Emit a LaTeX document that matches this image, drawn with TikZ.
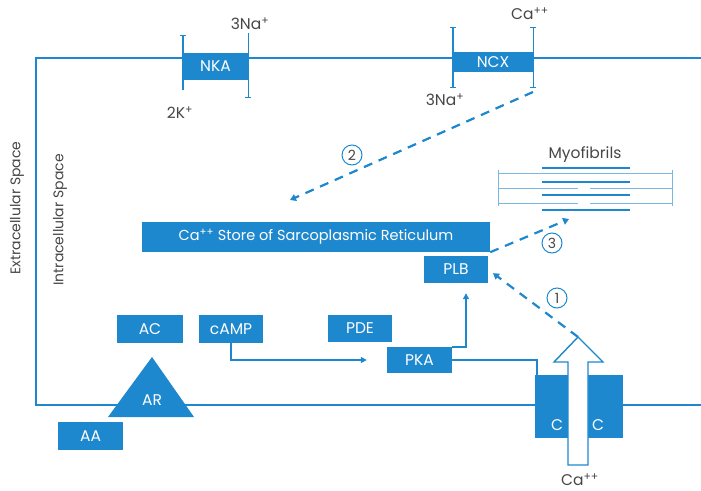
\documentclass[tikz,border=0pt]{standalone}
\usepackage{fontspec}
\setmainfont{Poppins}
\usetikzlibrary{arrows.meta,calc}
\definecolor{cellblue}{RGB}{30,136,206}
\definecolor{txtgray}{RGB}{70,70,70}
\tikzset{
  box/.style={fill=cellblue, text=white, inner sep=0pt, font=\fontsize{15.5}{17}\selectfont},
  lbl/.style={text=txtgray, inner sep=0pt, font=\fontsize{15.5}{17}\selectfont},
  sidelbl/.style={lbl, rotate=90, font=\fontsize{14}{16}\selectfont},
  membrane/.style={draw=cellblue, line width=1.6pt},
  pumpline/.style={draw=cellblue, line width=1.4pt},
  flow/.style={draw=cellblue, line width=1.4pt, -{Triangle[length=6pt,width=6pt]}},
  dashflow/.style={draw=cellblue, line width=2.2pt, dash pattern=on 9pt off 7pt, -{Triangle[length=6pt,width=7pt]}},
  stepnum/.style={circle, draw=cellblue, fill=white, line width=1pt, minimum size=20pt, inner sep=0pt, text=txtgray, font=\fontsize{14}{16}\selectfont},
}
\begin{document}
\begin{tikzpicture}[x=1pt,y=-1pt]
    \useasboundingbox (0,0) rectangle (701,490);

    % Membrane
    \draw[membrane] (701,58) -- (36,58) -- (36,405) -- (701,405);
    \node[sidelbl] (extra) at (17,208) {Extracellular Space};
    \node[sidelbl] (intra) at (60,220) {Intracellular Space};

    % Pumps
    \node[box, minimum width=65pt, minimum height=27pt] (nka) at (215.5,66.5) {NKA};
    \draw[pumpline, {Bar[width=6pt]}-] ([yshift=18pt]nka.north west) -- ([yshift=-10pt]nka.south west);
    \draw[pumpline, -{Bar[width=6pt]}] ([yshift=20pt]nka.north east) -- ([yshift=-18pt]nka.south east);
    \node[lbl] (na1) at (250,24) {3Na\textsuperscript{+}};
    \node[lbl] (k1) at (180,113) {2K\textsuperscript{+}};

    \node[box, minimum width=80pt, minimum height=20pt] (ncx) at (493,62) {NCX};
    \draw[pumpline, {Bar[width=6pt]}-{Bar[width=6pt]}] ([yshift=25pt]ncx.north west) -- ([yshift=-16pt]ncx.south west);
    \draw[pumpline, {Bar[width=6pt]}-{Bar[width=6pt]}] ([yshift=25pt]ncx.north east) -- ([yshift=-16pt]ncx.south east);
    \node[lbl] (ca1) at (530,14) {Ca\textsuperscript{++}};
    \node[lbl] (na2) at (445,100) {3Na\textsuperscript{+}};
    \coordinate (ncxout) at (533,92);

    % Sarcoplasmic reticulum
    \node[box, minimum width=348pt, minimum height=30pt, font=\fontsize{14.5}{16}\selectfont] (store) at (316,237) {Ca\textsuperscript{++} Store of Sarcoplasmic Reticulum};
    \node[box, minimum width=64pt, minimum height=27pt] (plb) at (456,269.5) {PLB};
    \coordinate (storetip) at (290,200);

    % Myofibrils
    \node[lbl] (myo) at (585,155) {Myofibrils};
    \draw[cellblue!60, line width=0.8pt] (498,170) -- (498,206) (672,170) -- (672,206) (498,173) -- (672,173);
    \foreach \y in {188,203}
        \draw[cellblue!60, line width=0.8pt] (498,\y) -- (578,\y) (590,\y) -- (672,\y);
    \foreach \y in {168,182,195,210}
        \draw[cellblue, line width=2.6pt] (542,\y) -- (630,\y);
    \coordinate (myotip) at (569,219);

    % Signalling
    \node[box, minimum width=66pt, minimum height=28pt] (ac) at (150,329) {AC};
    \node[box, minimum width=64pt, minimum height=28pt] (camp) at (231,329) {cAMP};
    \node[box, minimum width=64pt, minimum height=27pt] (pde) at (360,328.5) {PDE};
    \node[box, minimum width=65pt, minimum height=26pt] (pka) at (419.5,360) {PKA};
    \node[box, minimum width=65pt, minimum height=28pt] (aa) at (90.5,436) {AA};
    \fill[cellblue] (108,417) -- (152,357) -- (194,417) -- cycle;
    \node[lbl, text=white] (ar) at (152,400) {AR};

    % Calcium channel
    \node[box, minimum width=33pt, minimum height=63pt] (chl) at (551.5,406.5) {};
    \node[box, minimum width=35pt, minimum height=63pt] (chr) at (605.5,406.5) {};
    \node[lbl, text=white] (cl) at (557,425) {C};
    \node[lbl, text=white] (cr) at (598,425) {C};
    \draw[cellblue, line width=1.4pt, fill=white] (568,465) -- (568,362) -- (554,362) -- (578,337) -- (603,362) -- (588,362) -- (588,465) -- cycle;
    \coordinate (chtip) at (578,337);
    \node[lbl] (ca2) at (580,480) {Ca\textsuperscript{++}};

    % Connectors
    \draw[flow, shorten >=20pt] (camp.south) |- (pka.west);
    \draw[flow, shorten >=10pt] (pka.north east) -| ([xshift=10pt]plb.south);
    \draw[pumpline] (pka.east) -| ([xshift=2pt]chl.north west);
    \draw[dashflow] (ncxout) -- (storetip);
    \draw[dashflow] (store.south east) -- (myotip);
    \draw[dashflow, shorten >=6pt] (chtip) -- (plb.east);

    % Steps
    \node[stepnum] (s1) at (557,298) {1};
    \node[stepnum] (s2) at (352,155) {2};
    \node[stepnum] (s3) at (552,243) {3};
\end{tikzpicture}
\end{document}
